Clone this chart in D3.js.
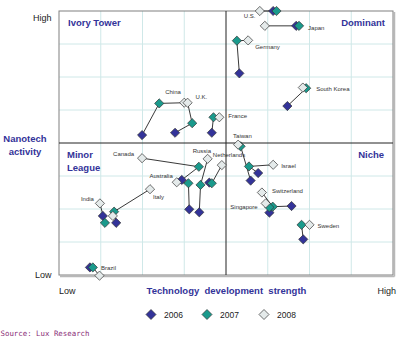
<!DOCTYPE html>
<html><head><meta charset="utf-8">
<script src="https://cdn.jsdelivr.net/npm/d3@7"></script>
<style>html,body{margin:0;padding:0;background:#fff;}svg{display:block;}</style>
</head><body>
<svg id="chart" width="398" height="338"></svg>
<script>
// ---- data (grid units 0..8 on both axes) ----
const countries = ["U.S.","Japan","Germany","South Korea","France","China","U.K.","Taiwan","Israel","Canada","Russia","Netherlands","Australia","Italy","India","Brazil","Switzerland","Singapore","Sweden",""];
const x2006 = [5.13,5.68,4.32,5.47,3.66,1.99,2.78,4.59,4.77,2.94,3.36,3.60,3.12,1.37,1.05,0.74,5.57,5.04,5.85,null];
const y2006 = [8.00,7.55,6.11,5.12,4.31,4.24,4.31,2.86,3.09,2.88,1.90,2.80,1.99,1.58,1.79,0.23,2.09,1.89,1.08,null];
const x2007 = [5.21,5.75,4.26,5.92,3.70,2.40,3.19,4.35,4.55,3.35,3.39,3.66,3.10,1.32,1.10,0.81,5.12,5.04,5.81,null];
const y2007 = [8.00,7.55,7.10,5.66,4.78,5.20,4.60,3.90,3.29,3.28,2.73,2.78,2.78,1.92,1.58,0.23,2.07,2.05,1.52,null];
const x2008 = [4.81,4.93,4.53,5.84,3.84,3.00,3.08,4.29,5.13,1.99,3.56,3.90,2.82,2.18,0.98,0.97,4.86,4.95,6.00,1.29];
const y2008 = [8.00,7.55,7.11,5.68,4.78,5.22,5.22,3.95,3.34,3.54,3.52,3.33,2.81,2.60,2.17,-0.02,2.50,2.17,1.52,1.79];
const years = ["2006","2007","2008"];
const quadrantNames = ["Ivory Tower","Dominant","Minor League","Niche"];
const axisTitles = {x:"Technology  development  strength", y:"Nanotech activity"};
const axisEnds = {low:"Low", high:"High"};
const sourceText = "Source: Lux Research";

// ---- layout ----
const svg = d3.select("#chart");
const L = 59, R = 393, T = 11, B = 275;
const x = d3.scaleLinear().domain([0,8]).range([L,R]);
const y = d3.scaleLinear().domain([0,8]).range([B,T]);
const colors = {"2006":"#333399","2007":"#1a9a8c","2008":"#e4eaea"};
const font = "'Liberation Sans', Arial, sans-serif";
const diamond = r => `M0,${-r}L${r},0L0,${r}L${-r},0Z`;

// grid
const ticks = d3.range(1,8);
svg.append("g").selectAll("line").data(ticks.filter(t=>t!==4)).join("line")
  .attr("x1",d=>x(d)).attr("x2",d=>x(d)).attr("y1",T).attr("y2",B)
  .attr("stroke","#cfe8e8").attr("stroke-width",1);
svg.append("g").selectAll("line").data(ticks.filter(t=>t!==4)).join("line")
  .attr("y1",d=>y(d)).attr("y2",d=>y(d)).attr("x1",L).attr("x2",R)
  .attr("stroke","#cfe8e8").attr("stroke-width",1);
// frame with shadow
svg.append("line").attr("x1",R+1.5).attr("x2",R+1.5).attr("y1",T+1).attr("y2",B+1.5).attr("stroke","#b8b8b8").attr("stroke-width",1.5);
svg.append("line").attr("x1",L+1).attr("x2",R+1.5).attr("y1",B+1.5).attr("y2",B+1.5).attr("stroke","#b8b8b8").attr("stroke-width",1.5);
svg.append("rect").attr("x",L).attr("y",T).attr("width",R-L).attr("height",B-T)
  .attr("fill","none").attr("stroke","#808080").attr("stroke-width",1);
// midlines
svg.append("line").attr("x1",x(4)).attr("x2",x(4)).attr("y1",T).attr("y2",B).attr("stroke","#222").attr("stroke-width",1);
svg.append("line").attr("y1",y(4)).attr("y2",y(4)).attr("x1",L).attr("x2",R).attr("stroke","#222").attr("stroke-width",1);

// build points
const data = countries.map((c,i)=>({
  name:c,
  pts:[
    {yr:"2006",x:x2006[i],y:y2006[i]},
    {yr:"2007",x:x2007[i],y:y2007[i]},
    {yr:"2008",x:x2008[i],y:y2008[i]}
  ].filter(p=>p.x!=null)
}));

// connecting lines
const line = d3.line().x(p=>x(p.x)).y(p=>y(p.y));
svg.append("g").selectAll("path").data(data.filter(d=>d.pts.length>1)).join("path")
  .attr("d",d=>line(d.pts)).attr("fill","none").attr("stroke","#222").attr("stroke-width",0.9);

// markers by year (2008 on top)
years.forEach(yr=>{
  const pts = data.flatMap(d=>d.pts.filter(p=>p.yr===yr));
  svg.append("g").selectAll("path").data(pts).join("path")
    .attr("d",diamond(4.6))
    .attr("transform",p=>`translate(${x(p.x)},${y(p.y)})`)
    .attr("fill",colors[yr]).attr("stroke","#333").attr("stroke-width",0.7);
});

// country labels: [anchor year index, dx, dy, anchor]
const labelLayout = {
  "U.S.":[2,-16,7,"start"], "Japan":[1,9,4,"start"], "Germany":[2,7,9,"start"],
  "South Korea":[1,10,3,"start"], "France":[2,9,1,"start"], "China":[1,6,-9,"start"],
  "U.K.":[2,8,-4,"start"], "Taiwan":[2,-5,-7,"start"], "Israel":[2,8,3,"start"],
  "Canada":[2,-8,-2,"end"], "Russia":[2,-15,-6,"start"], "Netherlands":[2,-9,-8,"start"],
  "Australia":[2,-4,-4,"end"], "Italy":[2,3,10,"start"], "India":[2,-6,-2,"end"],
  "Brazil":[2,1.5,-5.5,"start"], "Switzerland":[2,10,0.5,"start"], "Singapore":[2,-8,5.5,"end"],
  "Sweden":[2,8,3,"start"]
};
svg.append("g").selectAll("text").data(data.filter(d=>d.name)).join("text")
  .attr("x",d=>{const l=labelLayout[d.name];const p=d.pts.find(q=>q.yr===years[l[0]]);return x(p.x)+l[1];})
  .attr("y",d=>{const l=labelLayout[d.name];const p=d.pts.find(q=>q.yr===years[l[0]]);return y(p.y)+l[2];})
  .attr("text-anchor",d=>labelLayout[d.name][3])
  .attr("font-family",font).attr("font-size",6).attr("fill","#333")
  .text(d=>d.name);

// quadrant names
const qStyle = s=>s.attr("font-family",font).attr("font-size",9.5).attr("font-weight","bold").attr("fill","#333399");
qStyle(svg.append("text").attr("x",68).attr("y",26).text(quadrantNames[0]));
qStyle(svg.append("text").attr("x",385).attr("y",26).attr("text-anchor","end").text(quadrantNames[1]));
const ml = quadrantNames[2].split(" ");
qStyle(svg.append("text").attr("x",67).attr("y",158).text(ml[0]));
qStyle(svg.append("text").attr("x",67).attr("y",170.5).text(ml[1]));
qStyle(svg.append("text").attr("x",384).attr("y",158).attr("text-anchor","end").text(quadrantNames[3]));

// y axis title
const yt = axisTitles.y.split(" ");
qStyle(svg.append("text").attr("x",25).attr("y",142).attr("text-anchor","middle").text(yt[0]));
qStyle(svg.append("text").attr("x",25).attr("y",154.5).attr("text-anchor","middle").text(yt[1]));
// x axis title
qStyle(svg.append("text").attr("x",226.5).attr("y",294).attr("text-anchor","middle")
  .style("white-space","pre").text(axisTitles.x));

// axis ends
const endStyle = s=>s.attr("font-family",font).attr("font-size",9).attr("fill","#222");
endStyle(svg.append("text").attr("x",51.5).attr("y",20.5).attr("text-anchor","end").text(axisEnds.high));
endStyle(svg.append("text").attr("x",51.5).attr("y",277.5).attr("text-anchor","end").text(axisEnds.low));
endStyle(svg.append("text").attr("x",59).attr("y",294).text(axisEnds.low));
endStyle(svg.append("text").attr("x",396).attr("y",294).attr("text-anchor","end").text(axisEnds.high));

// legend
const legX = [151,207,264];
years.forEach((yr,i)=>{
  svg.append("path").attr("d",diamond(5)).attr("transform",`translate(${legX[i]},314.5)`)
    .attr("fill",colors[yr]).attr("stroke","#333").attr("stroke-width",0.7);
  svg.append("text").attr("x",legX[i]+13).attr("y",317.5).attr("font-family",font)
    .attr("font-size",8.5).attr("fill","#222").text(yr);
});

// source
svg.append("text").attr("x",0.5).attr("y",335.5).attr("font-family","'DejaVu Sans Mono', monospace")
  .attr("font-size",7.4).attr("fill","#8a2d78").text(sourceText);
</script>
</body></html>
